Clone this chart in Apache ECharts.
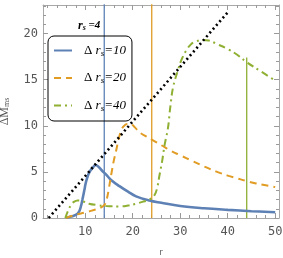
<!DOCTYPE html>
<html><head><meta charset="utf-8">
<script src="https://cdn.jsdelivr.net/npm/echarts@6/dist/echarts.min.js"></script>
<style>html,body{margin:0;padding:0;background:#fff}#c{width:283px;height:258px}</style>
</head><body><div id="c"></div>
<script>
// ---- data ----
const blueR = [5.9, 7, 8, 8.7, 9.1, 9.4, 9.8, 10.1, 10.5, 10.8, 11.3, 11.9, 12.2, 12.7, 13.5, 14.4, 15.5, 17.2, 19, 20.7, 23.5, 26, 30, 35, 40, 45, 50];
const blueM = [0, 0.15, 0.33, 0.7, 1.3, 2.0, 3.0, 3.8, 4.5, 4.9, 5.3, 5.66, 5.75, 5.6, 5.15, 4.7, 4.1, 3.45, 2.85, 2.35, 1.9, 1.65, 1.3, 1.05, 0.88, 0.74, 0.63];
const orangeR = [5.9, 8, 10, 12, 13, 14, 14.5, 15, 15.5, 16, 16.5, 17, 17.5, 18, 18.8, 19.5, 20.5, 21.4, 23, 24, 26, 28, 30, 32.5, 35, 37.5, 40, 42, 44, 46, 48, 50];
const orangeM = [0, 0.35, 0.6, 0.9, 1.05, 1.4, 2, 3.3, 4.8, 6.2, 7.3, 8.5, 9.4, 9.9, 10.2, 10.2, 9.8, 9.3, 8.8, 8.5, 7.9, 7.3, 6.8, 6.2, 5.6, 5.05, 4.6, 4.3, 4.0, 3.75, 3.55, 3.35];
const greenR = [5.8, 6.3, 7, 7.6, 8.4, 9.5, 10.8, 12.5, 14.4, 17.2, 19, 20.7, 22, 23.5, 24.6, 25.2, 25.6, 26.2, 26.7, 27.4, 27.9, 28.5, 29.5, 30.3, 31.3, 32.2, 33.1, 34.8, 36, 37.6, 40.1, 42, 44, 47, 50];
const greenM = [0, 0.7, 1.4, 1.75, 1.9, 1.8, 1.55, 1.4, 1.3, 1.25, 1.35, 1.55, 1.75, 2.0, 2.5, 3.4, 4.55, 6.2, 7.9, 9.7, 12.0, 14.2, 16.0, 17.2, 18.2, 18.8, 19.1, 19.3, 19.25, 18.9, 18.3, 17.7, 16.9, 15.9, 14.9];
const dottedR = [2.3, 40];
const dottedM = [0, 22.3];
const vBlueR = [14, 14], vBlueM = [0, 30];
const vOrangeR = [24, 24], vOrangeM = [0, 30];
const vGreenR = [44, 44], vGreenM = [0, 17.4];
const seriesNames = ['10', '20', '40'];
const xMajor = [10, 20, 30, 40, 50];
const xMinor = [2, 4, 6, 8, 12, 14, 16, 18, 22, 24, 26, 28, 32, 34, 36, 38, 42, 44, 46, 48];
const yMajor = [0, 5, 10, 15, 20];
const yMinor = [1, 2, 3, 4, 6, 7, 8, 9, 11, 12, 13, 14, 16, 17, 18, 19, 21, 22, 23];

const zip = (a, b) => a.map((v, i) => [v, b[i]]);
const XMIN = 1.1, XMAX = 50.8, YMIN = 0, YMAX = 23.1;
const BLUE = '#5E81B5', ORANGE = '#E19C24', GREEN = '#8FB032';
const frame = { color: '#a8a8a8', width: 1 };
const tickLS = { color: '#9a9a9a', width: 1 };
const lblFont = { fontFamily: 'DejaVu Sans Mono', fontSize: 12, color: '#555' };

function xAx(pos, vals, len, labels, extra) {
  return Object.assign({
    type: 'value', position: pos, min: XMIN, max: XMAX,
    axisLine: { show: labels !== null, onZero: false, lineStyle: frame },
    axisTick: { show: true, inside: true, length: len, customValues: vals, lineStyle: tickLS },
    axisLabel: labels ? Object.assign({ show: true, customValues: labels, margin: 8 }, lblFont) : { show: false },
    splitLine: { show: false }
  }, extra || {});
}
function yAx(pos, vals, len, labels, extra) {
  return Object.assign({
    type: 'value', position: pos, min: YMIN, max: YMAX,
    axisLine: { show: labels !== null, onZero: false, lineStyle: frame },
    axisTick: { show: true, inside: true, length: len, customValues: vals, lineStyle: tickLS },
    axisLabel: labels ? Object.assign({ show: true, customValues: labels, margin: 5 }, lblFont) : { show: false },
    splitLine: { show: false }
  }, extra || {});
}

const chart = echarts.init(document.getElementById('c'), null, { renderer: 'canvas' });
chart.setOption({
  animation: false,
  backgroundColor: '#fff',
  grid: { left: 43, top: 5, right: 4, bottom: 40, containLabel: false, outerBoundsMode: 'none' },
  title: {
    text: '{i|r}{s|s}{b| =4}', left: 78, top: 19, padding: 0,
    textStyle: { rich: {
      i: { fontFamily: 'Liberation Serif', fontStyle: 'italic', fontSize: 12, color: '#000' },
      s: { fontFamily: 'Liberation Serif', fontStyle: 'italic', fontSize: 8, color: '#000', padding: [5, 0, 0, 0] },
      b: { fontFamily: 'Liberation Serif', fontStyle: 'italic', fontWeight: 'bold', fontSize: 11, color: '#000' }
    } }
  },
  legend: {
    orient: 'vertical', left: 48, top: 36, padding: [8, 6, 8, 5],
    itemWidth: 18, itemHeight: 14, itemGap: 13.5,
    borderColor: '#000', borderWidth: 1, borderRadius: 6,
    itemStyle: { opacity: 0 },
    data: seriesNames,
    formatter: n => '{d|Δ }{i|r}{s|s}{i|=' + n + '}',
    textStyle: { rich: {
      d: { fontFamily: 'Liberation Serif', fontSize: 13, color: '#000', padding: [0, 0, 0, 7] },
      i: { fontFamily: 'Liberation Serif', fontStyle: 'italic', fontSize: 13, color: '#000' },
      s: { fontFamily: 'Liberation Serif', fontStyle: 'italic', fontSize: 9, color: '#000', padding: [6, 0, 0, 0] }
    } }
  },
  xAxis: [
    xAx('bottom', xMajor, 5, xMajor, { name: 'r', nameLocation: 'middle', nameGap: 30,
      nameTextStyle: { fontFamily: 'DejaVu Sans', fontSize: 9, color: '#666' } }),
    xAx('bottom', xMinor, 3, null),
    xAx('top', xMajor, 5, false),
    xAx('top', xMinor, 3, null)
  ],
  yAxis: [
    yAx('left', yMajor, 5, yMajor, { name: '{a|ΔM}{s|ms}', nameLocation: 'middle', nameGap: 32, nameRotate: 90,
      nameTextStyle: { rich: {
        a: { fontFamily: 'Liberation Serif', fontSize: 12, color: '#555' },
        s: { fontFamily: 'Liberation Serif', fontSize: 8, color: '#555', padding: [5, 0, 0, 0] }
      } } }),
    yAx('left', yMinor, 3, null),
    yAx('right', yMajor, 5, false),
    yAx('right', yMinor, 3, null)
  ],
  series: [
    { type: 'line', name: 'vb', data: zip(vBlueR, vBlueM), symbol: 'none', lineStyle: { color: BLUE, width: 1.3 }, z: 1 },
    { type: 'line', name: 'vo', data: zip(vOrangeR, vOrangeM), symbol: 'none', lineStyle: { color: ORANGE, width: 1.3 }, z: 1 },
    { type: 'line', name: 'vg', data: zip(vGreenR, vGreenM), symbol: 'none', lineStyle: { color: GREEN, width: 1.3 }, z: 1 },
    { type: 'line', name: seriesNames[0], data: zip(blueR, blueM), symbol: 'none', smooth: 0.4,
      color: BLUE, lineStyle: { color: BLUE, width: 2.6 }, z: 3 },
    { type: 'line', name: seriesNames[1], data: zip(orangeR, orangeM), symbol: 'none', smooth: 0.4,
      color: ORANGE, lineStyle: { color: ORANGE, width: 2, type: [7, 5] }, z: 3 },
    { type: 'line', name: seriesNames[2], data: zip(greenR, greenM), symbol: 'none', smooth: 0.4,
      color: GREEN, lineStyle: { color: GREEN, width: 2, type: [7, 4, 2, 4] }, z: 3 },
    { type: 'line', name: 'dot', data: zip(dottedR, dottedM), symbol: 'none',
      lineStyle: { color: '#000', width: 2.6, type: [2, 3] }, z: 4 }
  ]
});
</script></body></html>
